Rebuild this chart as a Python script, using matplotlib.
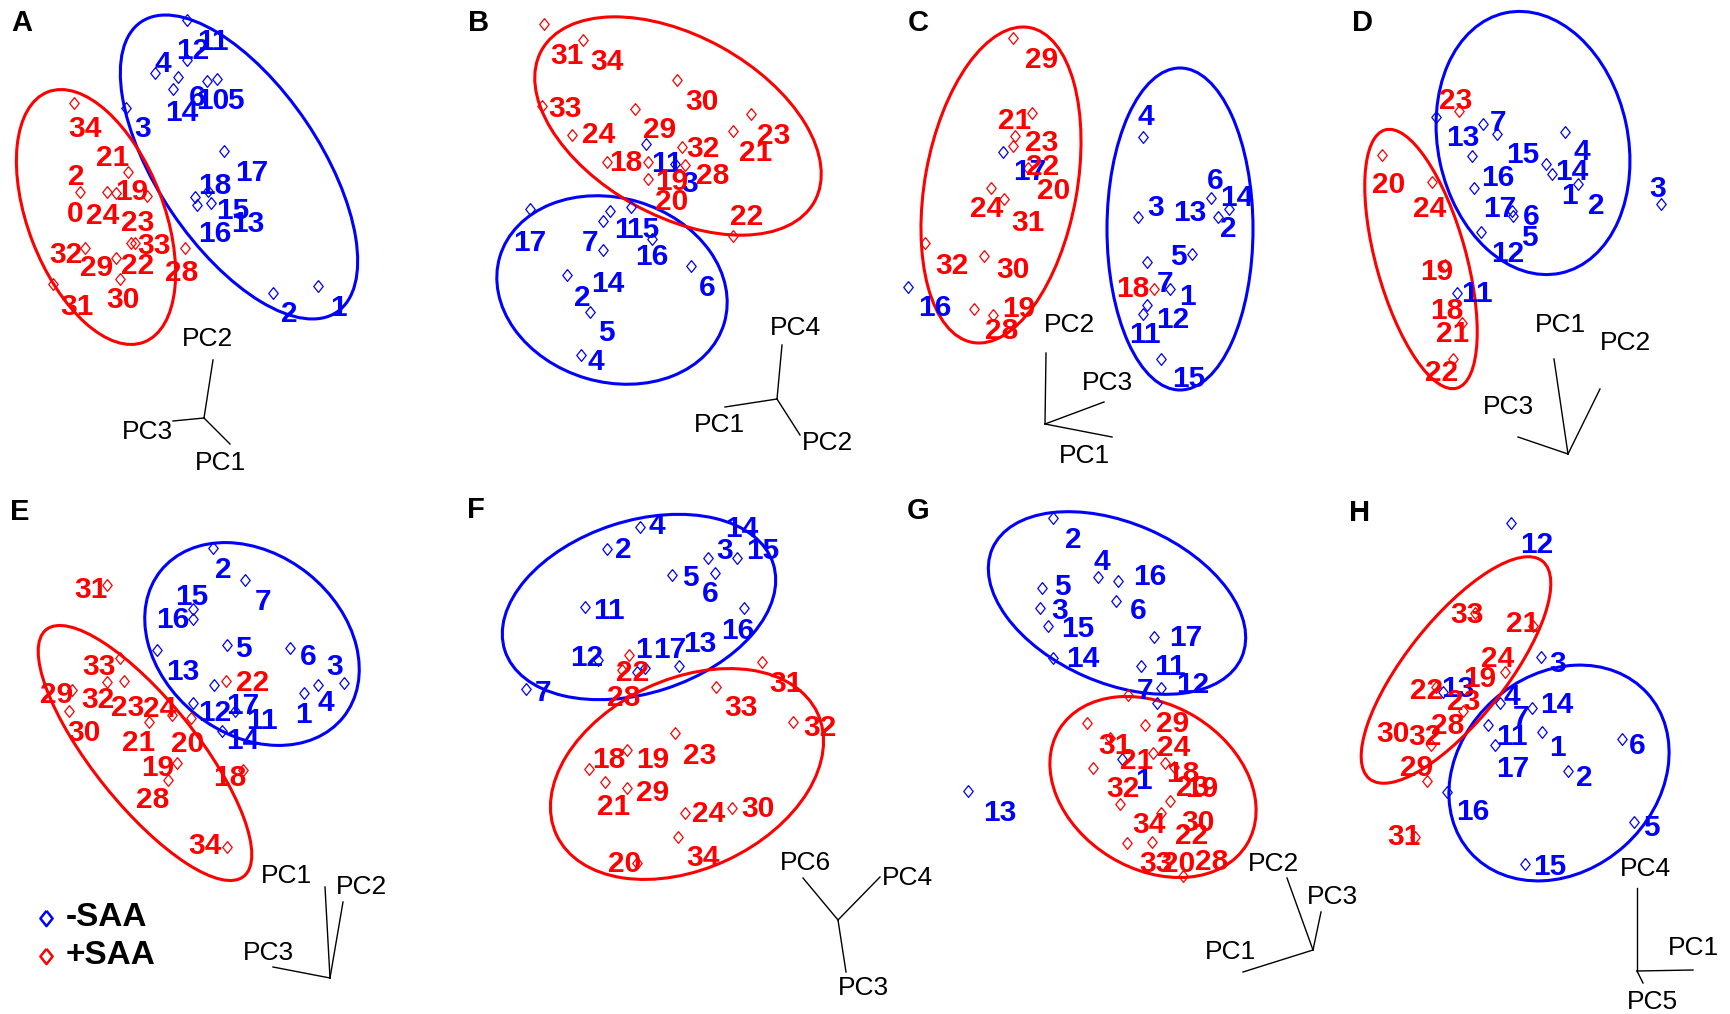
import matplotlib
matplotlib.use('Agg')
import matplotlib.pyplot as plt
from matplotlib.patches import Ellipse

plt.rcParams['font.family'] = ['Liberation Sans', 'DejaVu Sans']

BLUE = '#0000FF'
RED = '#FF0000'

# --- score positions (local pixel units, y down) ---
# panel A : PC1-PC2-PC3
A_minus_pts = [(187, 20), (187, 60), (155, 73), (178, 77), (173, 89), (207, 81), (217, 79),
               (126, 108), (224, 151), (195, 197), (197, 205), (208, 191), (211, 203),
               (273, 293), (318, 286)]
A_minus_ids = [('11', 213, 41), ('12', 193, 50), ('4', 163, 63), ('6', 197, 97), ('10', 213, 100),
               ('5', 235, 100), ('14', 182, 112), ('3', 143, 128), ('17', 252, 172), ('18', 215, 185),
               ('15', 233, 210), ('13', 248, 223), ('16', 215, 233), ('2', 289, 313), ('1', 338, 307)]
A_plus_pts = [(74, 103), (128, 172), (80, 192), (107, 192), (116, 193), (147, 196), (131, 243),
              (135, 243), (85, 248), (116, 258), (120, 279), (53, 284), (185, 248)]
A_plus_ids = [('34', 85, 128), ('21', 113, 157), ('2', 76, 176), ('19', 132, 191), ('0', 75, 213),
              ('24', 103, 215), ('23', 138, 222), ('33', 154, 245), ('32', 66, 254), ('29', 97, 267),
              ('22', 138, 265), ('28', 182, 272), ('31', 77, 306), ('30', 123, 299)]

# panel B : PC1-PC2-PC4
B_minus_pts = [(176, 144), (205, 164), (60, 209), (140, 211), (133, 221), (161, 207), (182, 239),
               (133, 250), (97, 275), (221, 266), (120, 312), (111, 355)]
B_minus_ids = [('11', 197, 163), ('3', 220, 183), ('17', 60, 242), ('7', 120, 242), ('1', 152, 229),
               ('15', 173, 229), ('16', 182, 256), ('14', 138, 283), ('2', 112, 297), ('6', 237, 287),
               ('5', 136, 332), ('4', 126, 361)]
B_plus_pts = [(74, 24), (113, 40), (72, 106), (165, 109), (207, 80), (102, 135), (137, 162),
              (178, 162), (178, 179), (212, 147), (215, 165), (263, 131), (281, 114), (263, 236)]
B_plus_ids = [('31', 97, 55), ('34', 137, 61), ('33', 95, 108), ('30', 232, 101), ('24', 129, 134),
              ('29', 190, 129), ('23', 304, 135), ('32', 233, 148), ('21', 286, 152), ('18', 156, 162),
              ('28', 243, 175), ('19', 202, 181), ('20', 202, 201), ('22', 277, 216)]

# panel C : PC1-PC2-PC3
C_minus_pts = [(103, 152), (243, 137), (238, 217), (311, 198), (318, 217), (329, 209), (292, 254),
               (247, 262), (270, 289), (247, 305), (243, 314), (261, 359), (8, 287)]
C_minus_ids = [('17', 130, 171), ('4', 246, 116), ('6', 315, 180), ('14', 337, 197), ('3', 256, 207),
               ('13', 290, 212), ('2', 328, 228), ('5', 278, 256), ('7', 265, 283), ('1', 287, 296),
               ('12', 273, 319), ('11', 245, 334), ('15', 289, 378), ('16', 35, 307)]
C_plus_pts = [(113, 38), (132, 113), (115, 136), (113, 146), (128, 168), (91, 188), (104, 199),
              (25, 243), (84, 256), (74, 309), (93, 315), (254, 289)]
C_plus_ids = [('29', 142, 59), ('21', 115, 120), ('23', 142, 142), ('22', 143, 166), ('20', 154, 190),
              ('24', 87, 208), ('31', 128, 222), ('32', 52, 265), ('30', 113, 269), ('19', 119, 308),
              ('28', 102, 330), ('18', 233, 288)]

# panel D : PC1-PC2-PC3
D_minus_pts = [(106, 117), (153, 124), (167, 134), (235, 132), (142, 156), (216, 164), (222, 174),
               (248, 184), (144, 188), (182, 211), (183, 216), (151, 232), (127, 293), (331, 204)]
D_minus_ids = [('7', 168, 122), ('13', 133, 137), ('15', 193, 154), ('4', 252, 151), ('14', 242, 171),
               ('16', 168, 177), ('1', 239, 195), ('2', 266, 205), ('17', 170, 208), ('6', 201, 216),
               ('5', 199, 237), ('12', 178, 253), ('11', 147, 293), ('3', 328, 188)]
D_plus_pts = [(129, 111), (52, 155), (102, 182), (115, 265), (132, 323), (123, 359)]
D_plus_ids = [('23', 126, 100), ('20', 59, 184), ('24', 100, 208), ('19', 107, 271), ('18', 117, 310),
              ('21', 123, 333), ('22', 112, 372)]

# panel E : PC1-PC2-PC3
E_minus_pts = [(213, 58), (245, 90), (193, 119), (193, 129), (227, 155), (290, 158), (157, 160),
               (214, 195), (318, 195), (344, 193), (304, 203), (193, 213), (235, 221), (222, 241)]
E_minus_ids = [('2', 223, 79), ('7', 263, 111), ('15', 192, 106), ('16', 173, 129), ('5', 243, 158),
               ('6', 308, 166), ('3', 335, 176), ('13', 183, 181), ('4', 326, 212), ('1', 303, 224),
               ('12', 215, 222), ('17', 243, 215), ('11', 262, 230), ('14', 243, 250)]
E_plus_pts = [(107, 95), (120, 168), (107, 192), (124, 191), (72, 200), (69, 221), (226, 191),
              (149, 232), (172, 225), (191, 228), (177, 273), (168, 290), (243, 280), (227, 357)]
E_plus_ids = [('31', 91, 99), ('33', 99, 176), ('29', 57, 204), ('32', 98, 209), ('23', 128, 217),
              ('24', 160, 218), ('22', 253, 192), ('30', 84, 242), ('21', 139, 252), ('20', 188, 253),
              ('19', 158, 277), ('18', 230, 287), ('28', 153, 309), ('34', 205, 355)]

# panel F : PC3-PC4-PC6
F_minus_pts = [(170, 37), (137, 59), (202, 85), (238, 68), (245, 83), (267, 68), (274, 118),
               (115, 117), (128, 170), (175, 178), (167, 182), (209, 176), (56, 199)]
F_minus_ids = [('4', 187, 35), ('2', 153, 59), ('14', 272, 38), ('3', 255, 60), ('15', 293, 60),
               ('5', 220, 87), ('6', 240, 103), ('11', 139, 120), ('16', 268, 140), ('12', 117, 167),
               ('1', 173, 159), ('17', 200, 159), ('13', 230, 153), ('7', 73, 202)]
F_plus_pts = [(159, 165), (152, 180), (292, 172), (246, 197), (323, 232), (205, 243), (157, 260),
              (119, 279), (135, 292), (157, 298), (215, 323), (262, 318), (208, 347), (167, 373)]
F_plus_ids = [('22', 163, 182), ('28', 154, 207), ('31', 316, 193), ('33', 271, 217), ('32', 350, 237),
              ('23', 230, 265), ('18', 139, 269), ('19', 183, 269), ('29', 183, 302), ('21', 144, 316),
              ('24', 239, 323), ('30', 288, 318), ('34', 233, 367), ('20', 155, 373)]

# panel G : PC1-PC2-PC3
G_minus_pts = [(153, 28), (198, 87), (218, 91), (142, 98), (216, 111), (140, 118), (148, 136),
               (254, 147), (153, 168), (241, 176), (261, 198), (257, 213), (68, 301), (222, 269)]
G_minus_ids = [('2', 173, 49), ('4', 202, 71), ('16', 250, 86), ('5', 162, 96), ('6', 238, 120),
               ('3', 160, 120), ('15', 178, 138), ('17', 286, 147), ('14', 183, 168), ('11', 270, 176),
               ('12', 293, 194), ('7', 245, 200), ('13', 100, 322), ('1', 243, 290)]
G_plus_pts = [(228, 205), (187, 233), (245, 235), (210, 248), (253, 263), (265, 273), (274, 277),
              (193, 278), (270, 311), (220, 314), (261, 323), (227, 353), (252, 352), (283, 386)]
G_plus_ids = [('29', 273, 233), ('31', 215, 255), ('24', 274, 257), ('21', 237, 270), ('18', 283, 283),
              ('23', 293, 297), ('19', 302, 298), ('32', 223, 298), ('34', 249, 334), ('30', 298, 332),
              ('22', 292, 345), ('33', 256, 373), ('20', 279, 373), ('28', 312, 371)]

# panel H : PC1-PC4-PC5
H_minus_pts = [(181, 33), (211, 167), (170, 213), (202, 218), (212, 242), (158, 235), (165, 255),
               (238, 281), (292, 249), (304, 332), (195, 374), (117, 302), (113, 202)]
H_minus_ids = [('12', 207, 54), ('3', 228, 173), ('4', 182, 206), ('14', 227, 214), ('7', 191, 227),
               ('11', 182, 246), ('1', 227, 257), ('6', 307, 255), ('17', 183, 278), ('2', 254, 287),
               ('16', 143, 321), ('5', 321, 337), ('15', 220, 376), ('13', 128, 198)]
H_plus_pts = [(203, 136), (175, 182), (106, 197), (133, 221), (101, 255), (97, 291), (85, 347), (145, 123)]
H_plus_ids = [('33', 137, 124), ('21', 193, 133), ('24', 168, 168), ('19', 150, 188), ('22', 97, 200),
              ('23', 134, 211), ('28', 118, 235), ('30', 63, 243), ('32', 95, 246), ('29', 87, 277),
              ('31', 74, 346)]

# group ellipses: (cx, cy, semi-major, semi-minor, angle)
A_ell = {'-': (239, 167, 175, 81, 56), '+': (96, 217, 134, 68, 69)}
B_ell = {'-': (142, 290, 117, 92, 16.5), '+': (208, 126, 156, 90, 29)}
C_ell = {'-': (280, 229, 161, 73, 90), '+': (101, 185, 160, 76, -79.75)}
D_ell = {'-': (203, 143, 133, 95, 78), '+': (91, 259, 134, 45, 74.5)}
E_ell = {'-': (252, 154, 117, 90, 38.7), '+': (145, 263, 158, 52, 51.3)}
F_ell = {'-': (169, 117, 141, 86, -18), '+': (217, 284, 144, 95, -25)}
G_ell = {'-': (217, 113, 136, 80, 23.6), '+': (253, 297, 110, 82, 31.5)}
H_ell = {'-': (229, 283, 119, 98, -42), '+': (126, 180, 139, 50, -51.6)}

# loading-axis glyphs: origin, then (name, tip x, tip y, label x, label y)
A_axes = ((204, 418), [('PC2', 213, 360, 207, 339), ('PC3', 173, 421, 147, 432), ('PC1', 230, 444, 220, 463)])
B_axes = ((307, 399), [('PC4', 312, 345, 325, 328), ('PC1', 255, 407, 249, 425), ('PC2', 330, 435, 358, 443)])
C_axes = ((145, 424), [('PC2', 146, 353, 170, 325), ('PC3', 204, 402, 207, 383), ('PC1', 212, 437, 184, 456)])
D_axes = ((238, 454), [('PC1', 224, 359, 230, 325), ('PC2', 270, 389, 295, 343), ('PC3', 188, 437, 178, 407)])
E_axes = ((330, 488), [('PC1', 325, 397, 286, 386), ('PC2', 343, 412, 362, 397), ('PC3', 273, 477, 268, 463)])
F_axes = ((368, 430), [('PC6', 333, 388, 335, 373), ('PC4', 410, 387, 437, 388), ('PC3', 376, 482, 393, 498)])
G_axes = ((413, 460), [('PC2', 387, 388, 373, 374), ('PC3', 421, 422, 432, 407), ('PC1', 343, 482, 330, 462)])
H_axes = ((307, 481), [('PC4', 307, 398, 315, 379), ('PC1', 363, 480, 363, 458), ('PC5', 313, 493, 322, 512)])

letters = ['A', 'B', 'C', 'D', 'E', 'F', 'G', 'H']
origins = [(0, 0), (470, 0), (900, 0), (1330, 0), (0, 490), (470, 490), (900, 490), (1330, 490)]
letter_pos = [(22, 23), (9, 23), (18, 23), (33, 23), (20, 22), (6, 20), (18, 21), (30, 23)]

panels = [
    (A_minus_pts, A_minus_ids, A_plus_pts, A_plus_ids, A_ell, A_axes),
    (B_minus_pts, B_minus_ids, B_plus_pts, B_plus_ids, B_ell, B_axes),
    (C_minus_pts, C_minus_ids, C_plus_pts, C_plus_ids, C_ell, C_axes),
    (D_minus_pts, D_minus_ids, D_plus_pts, D_plus_ids, D_ell, D_axes),
    (E_minus_pts, E_minus_ids, E_plus_pts, E_plus_ids, E_ell, E_axes),
    (F_minus_pts, F_minus_ids, F_plus_pts, F_plus_ids, F_ell, F_axes),
    (G_minus_pts, G_minus_ids, G_plus_pts, G_plus_ids, G_ell, G_axes),
    (H_minus_pts, H_minus_ids, H_plus_pts, H_plus_ids, H_ell, H_axes),
]

# open diamond, a bit taller than wide
diamond = [(0, 1), (0.8, 0), (0, -1), (-0.8, 0), (0, 1)]

fig = plt.figure(figsize=(17.3, 10.14), dpi=100)
ax = fig.add_axes([0, 0, 1, 1])
ax.set_xlim(0, 1730)
ax.set_ylim(1014, 0)
ax.axis('off')


def draw_group(ox, oy, pts, ids, ell, color):
    cx, cy, a, b, ang = ell
    ax.add_patch(Ellipse((ox + cx, oy + cy), 2 * a, 2 * b, angle=ang,
                         fill=False, edgecolor=color, linewidth=2.2))
    ax.plot([ox + p[0] for p in pts], [oy + p[1] for p in pts], linestyle='none',
            marker=diamond, markersize=8.5, markerfacecolor='none',
            markeredgecolor=color, markeredgewidth=0.9)
    for t, x, y in ids:
        ax.text(ox + x, oy + y + 1, t, color=color, fontsize=21.5, fontweight='bold',
                ha='center', va='center')


for i, (mpts, mids, ppts, pids, ell, axs) in enumerate(panels):
    ox, oy = origins[i]
    lx, ly = letter_pos[i]
    ax.text(ox + lx, oy + ly, letters[i], fontsize=21, fontweight='bold',
            ha='center', va='center')
    draw_group(ox, oy, mpts, mids, ell['-'], BLUE)
    draw_group(ox, oy, ppts, pids, ell['+'], RED)
    (x0, y0), arms = axs
    for name, tx, ty, nx, ny in arms:
        ax.plot([ox + x0, ox + tx], [oy + y0, oy + ty], color='black', linewidth=1.0)
        ax.text(ox + nx, oy + ny, name, fontsize=19, ha='center', va='center')

# legend (panel E)
ex, ey = origins[4]
for lab, col, yy in [('-SAA', BLUE, 428), ('+SAA', RED, 466)]:
    ax.plot(ex + 46, ey + yy, linestyle='none', marker=diamond, markersize=11,
            markerfacecolor='none', markeredgecolor=col, markeredgewidth=1.8)
    ax.text(ex + 66, ey + yy, lab, fontsize=24, fontweight='bold', ha='left', va='center')

fig.savefig('out.png', dpi=100)
